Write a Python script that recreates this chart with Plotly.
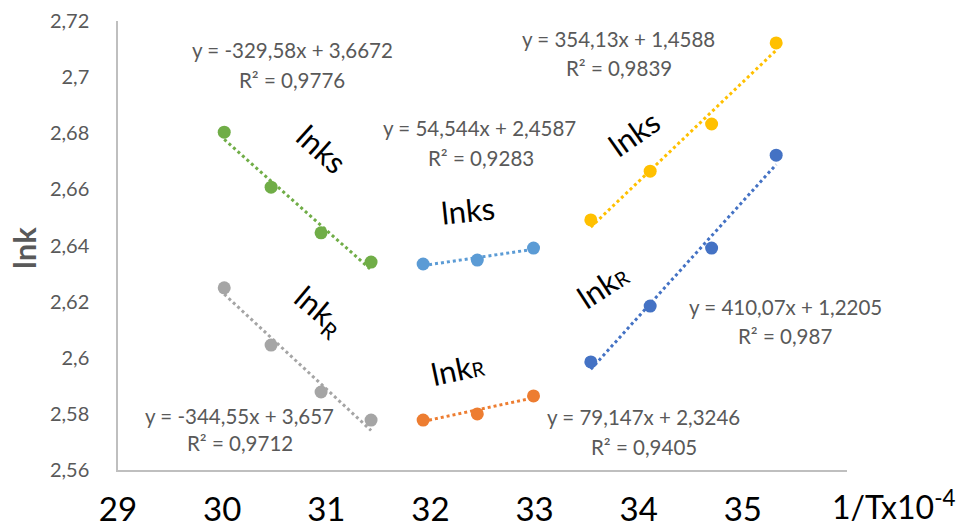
import plotly.graph_objects as go

# 1/T (K^-1) for the three temperature groups
x_hot = [0.003002, 0.003047, 0.003095, 0.003143]
x_mid = [0.003193, 0.003245, 0.003299]
x_cold = [0.003354, 0.003411, 0.003470, 0.003532]

# ln k values
lnks_hot = [2.6804, 2.6608, 2.6445, 2.6341]
lnkr_hot = [2.6249, 2.6045, 2.5878, 2.5778]
lnks_mid = [2.6334, 2.6348, 2.6391]
lnkr_mid = [2.5778, 2.5800, 2.5864]
lnks_cold = [2.6491, 2.6665, 2.6833, 2.7122]
lnkr_cold = [2.5985, 2.6184, 2.6391, 2.6722]

# linear trend coefficients (slope, intercept) and R^2
trend_slope = [-329.58, -344.55, 54.544, 79.147, 354.13, 410.07]
trend_icpt = [3.6672, 3.657, 2.4587, 2.3246, 1.4588, 1.2205]
trend_r2 = ["0,9776", "0,9712", "0,9283", "0,9405", "0,9839", "0,987"]

x_tickvals = [0.0029, 0.0030, 0.0031, 0.0032, 0.0033, 0.0034, 0.0035]
x_ticktext = ["29", "30", "31", "32", "33", "34", "35"]
y_tickvals = [2.56, 2.58, 2.60, 2.62, 2.64, 2.66, 2.68, 2.70, 2.72]
y_ticktext = ["2,56", "2,58", "2,6", "2,62", "2,64", "2,66", "2,68", "2,7", "2,72"]

series = [
    (x_hot, lnks_hot, "#70AD47"),
    (x_hot, lnkr_hot, "#A5A5A5"),
    (x_mid, lnks_mid, "#5B9BD5"),
    (x_mid, lnkr_mid, "#ED7D31"),
    (x_cold, lnks_cold, "#FFC000"),
    (x_cold, lnkr_cold, "#4472C4"),
]

W, H = 959, 529
L, R, T, B = 118, 112, 21, 59
PW, PH = W - L - R, H - T - B


def px(x):
    return (x - L) / PW


def py(y):
    return (H - B - y) / PH


FONT = "Lato"
fig = go.Figure()

for i, (xs, ys, col) in enumerate(series):
    x0, x1 = min(xs), max(xs)
    a, b = trend_slope[i], trend_icpt[i]
    fig.add_trace(go.Scatter(
        x=[x0, x1], y=[a * x0 + b, a * x1 + b], mode="lines",
        line=dict(color=col, width=3, dash="dot"), hoverinfo="skip",
        showlegend=False))
    fig.add_trace(go.Scatter(
        x=xs, y=ys, mode="markers",
        marker=dict(color=col, size=13), showlegend=False))


def fmt(v):
    return f"{v}".replace(".", ",")


def eq_text(i):
    a, b = trend_slope[i], trend_icpt[i]
    sign = "+" if b >= 0 else "-"
    return f"y = {fmt(a)}x {sign} {fmt(abs(b))}"


# equation label centres (pixels): (x, y_eq, x_r2, y_r2)
eq_pos = [
    (292, 50, 292, 80),
    (239, 416, 240, 443),
    (479, 128, 481, 158),
    (643, 417, 644, 447),
    (618, 39, 619, 68),
    (785, 307, 785, 336),
]

annotations = []
for i, (ex, ey, rx, ry) in enumerate(eq_pos):
    annotations.append(dict(
        x=px(ex), y=py(ey), xref="paper", yref="paper", text=eq_text(i),
        showarrow=False, font=dict(family=FONT, size=20.5, color="#595959"),
        xanchor="center", yanchor="middle"))
    annotations.append(dict(
        x=px(rx), y=py(ry), xref="paper", yref="paper",
        text=f"R² = {trend_r2[i]}",
        showarrow=False, font=dict(family=FONT, size=20.5, color="#595959"),
        xanchor="center", yanchor="middle"))

small_r = "lnk<span style='font-size:20px'>R</span>"
labels = [
    ("lnks", 322, 149, 42),
    ("lnk<sub>R</sub>", 319, 311, 40),
    ("lnks", 468, 210, -6),
    (small_r, 457, 369, -12),
    ("lnks", 634, 133, -35),
    (small_r, 602, 286, -33),
]
for txt, lx, ly, ang in labels:
    annotations.append(dict(
        x=px(lx), y=py(ly), xref="paper", yref="paper", text=txt,
        textangle=ang, showarrow=False,
        font=dict(family=FONT, size=31, color="black"),
        xanchor="center", yanchor="middle"))

# axis titles
annotations.append(dict(
    x=px(24), y=py(248), xref="paper", yref="paper", text="<b>lnk</b>",
    textangle=-90, showarrow=False,
    font=dict(family=FONT, size=31, color="#595959"),
    xanchor="center", yanchor="middle"))
annotations.append(dict(
    x=px(893), y=py(505), xref="paper", yref="paper",
    text="1/Tx10<sup>-4</sup>", showarrow=False,
    font=dict(family=FONT, size=32, color="black"),
    xanchor="center", yanchor="middle"))

fig.update_layout(
    width=W, height=H,
    margin=dict(l=L, r=R, t=T, b=B, pad=0, autoexpand=False),
    plot_bgcolor="white", paper_bgcolor="white",
    annotations=annotations,
    xaxis=dict(
        range=[0.0029, 0.0036], tickvals=x_tickvals, ticktext=x_ticktext,
        showgrid=False, zeroline=False, showline=True, automargin=False,
        linecolor="#BFBFBF", linewidth=1.5, ticks="",
        tickfont=dict(family=FONT, size=33, color="black"),
        ticklabelstandoff=10),
    yaxis=dict(
        range=[2.56, 2.72], tickvals=y_tickvals, ticktext=y_ticktext,
        showgrid=False, zeroline=False, showline=True, automargin=False,
        linecolor="#BFBFBF", linewidth=1.5, ticks="",
        tickfont=dict(family=FONT, size=20, color="#595959"),
        ticklabelstandoff=23),
)

fig.write_html("out.html")
